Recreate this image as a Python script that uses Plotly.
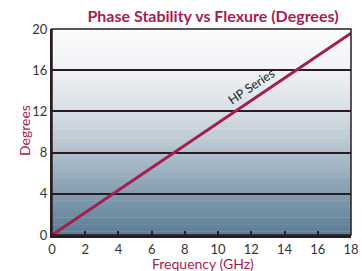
import plotly.graph_objects as go

freq_ghz = [0, 18]
phase_deg = [0, 19.6]
x_ticks = [0, 2, 4, 6, 8, 10, 12, 14, 16, 18]
y_ticks = [0, 4, 8, 12, 16, 20]
series_name = "HP Series"

RED = "#a51d4f"
DARK = "#2b1c21"

fig = go.Figure()
fig.add_trace(go.Scatter(x=freq_ghz, y=phase_deg, mode="lines",
                         line=dict(color=RED, width=3), showlegend=False,
                         hoverinfo="skip"))

# vertical gradient background (bands)
stops = [(0.0, (91, 125, 149)), (0.2, (132, 157, 176)), (0.4, (176, 192, 205)),
         (0.6, (215, 222, 229)), (0.8, (240, 242, 245)), (1.0, (252, 252, 253))]
def col(t):
    for (t0, c0), (t1, c1) in zip(stops[:-1], stops[1:]):
        if t0 <= t <= t1:
            f = (t - t0) / (t1 - t0)
            return "rgb(%d,%d,%d)" % tuple(round(a + (b - a) * f) for a, b in zip(c0, c1))
    return "rgb(%d,%d,%d)" % stops[-1][1]
N = 60
shapes = []
for i in range(N):
    shapes.append(dict(type="rect", xref="x domain", yref="y domain",
                       x0=0, x1=1, y0=i / N, y1=(i + 1) / N + 0.002,
                       fillcolor=col((i + 0.5) / N), line=dict(width=0), layer="below"))
shapes.append(dict(type="rect", xref="x domain", yref="y domain", x0=0, x1=1, y0=0, y1=1,
                   line=dict(color=DARK, width=1.5), layer="above"))

FONT = "Lato"
W, H = 362, 271
fig.update_layout(
    width=W, height=H,
    margin=dict(l=52, r=11, t=29, b=36, autoexpand=False),
    paper_bgcolor="white", plot_bgcolor="white",
    shapes=shapes,
    title=dict(text="<b>Phase Stability vs Flexure (Degrees)</b>",
               font=dict(family=FONT, size=16, color=RED),
               xref="container", x=213 / W, xanchor="center",
               yref="container", y=1 - 16 / H, yanchor="middle"),
    xaxis=dict(range=[0, 18], tickvals=x_ticks, showgrid=False, zeroline=False,
               automargin=False,
               showline=True, linecolor=DARK, linewidth=3,
               ticks="inside", ticklen=4, tickwidth=1.5, tickcolor=DARK,
               tickfont=dict(family=FONT, size=13, color="#333")),
    yaxis=dict(range=[0, 20], tickvals=y_ticks, showgrid=True, gridcolor=DARK, gridwidth=1.5,
               automargin=False,
               zeroline=False, showline=True, linecolor=DARK, linewidth=2,
               ticks="", tickfont=dict(family=FONT, size=13, color="#333")),
    annotations=[
        dict(x=12.0, y=14.4, xref="x", yref="y", text=series_name, showarrow=False,
             textangle=-34, font=dict(family=FONT, size=12.5, color="#222")),
        dict(x=203 / W, y=1 - 263.5 / H, xref="paper", yref="paper", xanchor="center", yanchor="middle",
             text="Frequency (GHz)", showarrow=False, font=dict(family=FONT, size=14, color=RED)),
        dict(x=24 / W, y=1 - 131 / H, xref="paper", yref="paper", xanchor="center", yanchor="middle",
             text="Degrees", textangle=-90, showarrow=False, font=dict(family=FONT, size=14, color=RED)),
    ],
)
# annotation positions above are given in container pixels; convert to paper coords
for a in fig.layout.annotations[1:]:
    px, py = a.x * W, (1 - a.y) * H
    a.x = (px - 52) / (W - 52 - 11)
    a.y = 1 - (py - 29) / (H - 29 - 36)
fig.write_html("out.html", config={"displayModeBar": False},
               post_script="document.body.style.margin='0';document.body.style.overflow='hidden';")
